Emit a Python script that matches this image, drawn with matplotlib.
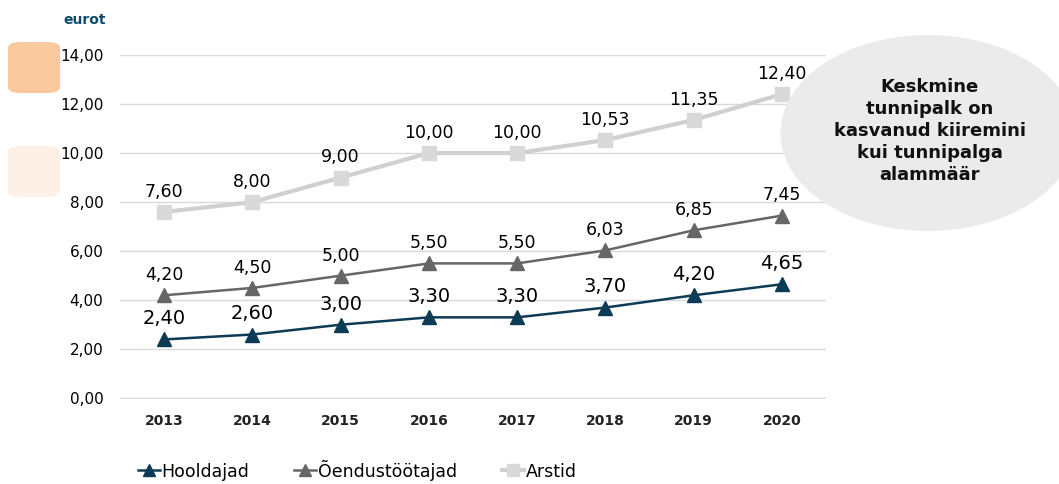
import matplotlib.pyplot as plt
from matplotlib.patches import Ellipse, FancyBboxPatch

# Andmed
aastad = ["2013", "2014", "2015", "2016", "2017", "2018", "2019", "2020"]
hooldajad = [2.40, 2.60, 3.00, 3.30, 3.30, 3.70, 4.20, 4.65]
oendus = [4.20, 4.50, 5.00, 5.50, 5.50, 6.03, 6.85, 7.45]
arstid = [7.60, 8.00, 9.00, 10.00, 10.00, 10.53, 11.35, 12.40]
y_ticks = [0, 2, 4, 6, 8, 10, 12, 14]

W, H = 1059, 484
fig = plt.figure(figsize=(W / 100, H / 100), dpi=100)
ax = fig.add_axes([120 / W, 1 - 399 / H, 706 / W, 344 / H])

x = range(len(aastad))


def fmt(v):
    return f"{v:.2f}".replace(".", ",")


ax.plot(x, arstid, color="#d0d0d0", lw=3, marker="s", ms=10,
        mfc="#d9d9d9", mec="#d9d9d9", label="Arstid", zorder=3)
ax.plot(x, oendus, color="#666666", lw=1.8, marker="^", ms=10,
        label="Õendustöötajad", zorder=4)
ax.plot(x, hooldajad, color="#0d3b55", lw=1.8, marker="^", ms=10,
        label="Hooldajad", zorder=5)

for i in x:
    ax.annotate(fmt(arstid[i]), (i, arstid[i]), xytext=(0, 8),
                textcoords="offset points", ha="center", va="bottom",
                fontsize=12.5)
    ax.annotate(fmt(oendus[i]), (i, oendus[i]), xytext=(0, 8),
                textcoords="offset points", ha="center", va="bottom",
                fontsize=12.5)
    ax.annotate(fmt(hooldajad[i]), (i, hooldajad[i]), xytext=(0, 8),
                textcoords="offset points", ha="center", va="bottom",
                fontsize=14)

ax.set_xlim(-0.5, len(aastad) - 0.5)
ax.set_ylim(-0.03, 14)
ax.set_yticks(y_ticks)
ax.set_yticklabels([fmt(v) for v in y_ticks], fontsize=11)
ax.set_xticks(list(x))
ax.set_xticklabels(aastad, fontsize=10, fontweight="bold", color="#222222")
ax.tick_params(length=0, pad=12)
ax.tick_params(axis="x", pad=11)
ax.grid(axis="y", color="#d9d9d9", lw=1)
ax.set_axisbelow(True)
for s in ax.spines.values():
    s.set_visible(False)

handles, labels = ax.get_legend_handles_labels()
fig.legend(handles[::-1], labels[::-1], ncol=3, frameon=False,
           loc="center left", bbox_to_anchor=(138 / W, 1 - 470 / H),
           fontsize=12.5, handlelength=1.25, handletextpad=0.1,
           columnspacing=2.6, borderaxespad=0, borderpad=0, markerscale=0.8)

fig.text(85 / W, 1 - 20 / H, "eurot", ha="center", va="center",
         fontsize=10, fontweight="bold", color="#0e4a6b")

for y0, c in [(42, "#f9c99d"), (146, "#fdf0e6")]:
    fig.add_artist(FancyBboxPatch((8 / W, 1 - (y0 + 51) / H), 52 / W, 51 / H,
                                  boxstyle="round,pad=0,rounding_size=0.012",
                                  transform=fig.transFigure, fc=c, ec="none"))

fig.add_artist(Ellipse((928 / W, 1 - 133 / H), 295 / W, 196 / H,
                       transform=fig.transFigure, fc="#ebebeb", ec="none",
                       zorder=6))
fig.text(930 / W, 1 - 131 / H,
         "Keskmine\ntunnipalk on\nkasvanud kiiremini\nkui tunnipalga\nalammäär",
         ha="center", va="center", fontsize=13, fontweight="bold",
         linespacing=1.3, color="#111111", zorder=7)

fig.savefig("out.png", dpi=100)
